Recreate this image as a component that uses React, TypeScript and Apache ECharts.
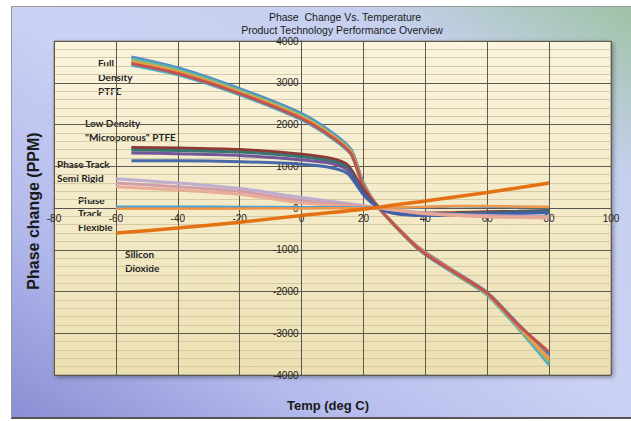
import React, { useEffect, useRef } from "react";
import * as echarts from "echarts";

// Full Density PTFE
const FD_TEMPS = [-55, -40, -20, 0, 10, 16, 20, 25, 35, 40, 50, 60, 70, 80];
const FD_BLUE = [3620, 3360, 2860, 2260, 1800, 1400, 600, 0, -760, -1060, -1540, -2020, -2780, -3520];
const FD_TEAL = [3580, 3330, 2830, 2230, 1770, 1380, 580, 0, -800, -1120, -1600, -2090, -2880, -3760];
const FD_GREEN = [3540, 3290, 2800, 2200, 1740, 1350, 560, 0, -790, -1090, -1580, -2060, -2840, -3680];
const FD_ORANGE = [3500, 3260, 2770, 2170, 1720, 1330, 540, 0, -770, -1080, -1560, -2050, -2830, -3620];
const FD_RED = [3460, 3220, 2740, 2140, 1690, 1300, 520, 0, -780, -1100, -1570, -2040, -2800, -3450];
const FD_PURPLE = [3420, 3190, 2710, 2110, 1660, 1280, 500, 0, -800, -1110, -1590, -2070, -2860, -3700];

// Low Density "Microporous" PTFE
const LD_TEMPS = [-55, -40, -20, 0, 10, 15, 20, 25, 30, 40, 50, 60, 70, 80];
const LD_DARKRED = [1450, 1440, 1400, 1290, 1180, 1020, 420, 0, -80, -120, -110, -90, -80, -60];
const LD_DARKTEAL = [1390, 1380, 1340, 1230, 1120, 960, 380, 0, -100, -150, -130, -110, -90, -70];
const LD_PURPLE = [1320, 1300, 1260, 1150, 1060, 900, 350, 0, -120, -170, -160, -140, -120, -100];
const LD_BLUE = [1130, 1130, 1110, 1050, 960, 820, 320, 0, -130, -180, -180, -160, -130, -110];

// Phase Track Semi Rigid
const SR_TEMPS = [-60, -40, -20, 0, 20, 25, 40, 60, 80];
const SR_LAVENDER = [700, 600, 470, 250, 60, 0, -120, -180, -200];
const SR_PINK = [600, 510, 400, 180, 40, 0, -130, -200, -220];
const SR_SALMON = [510, 430, 330, 120, 30, 0, -140, -210, -240];

// Phase Track Flexible
const FL_TEMPS = [-60, -40, -20, 0, 20, 25, 40, 50, 60, 70, 80];
const FL_BLUE = [30, 30, 25, 20, 10, 0, 20, 40, 30, 25, 20];
const FL_ORANGE = [-20, -20, -15, -10, -5, 0, 30, 50, 50, 35, 30];

// Silicon Dioxide
const SI_TEMPS = [-60, -40, -20, 0, 20, 40, 60, 80];
const SI_VALUES = [-600, -480, -340, -180, -30, 170, 370, 600];

const X_MIN = -80;
const X_MAX = 100;
const X_STEP = 20;
const Y_MIN = -4000;
const Y_MAX = 4000;
const Y_STEP = 1000;

const CHART_W = 631;
const CHART_H = 421;
const GRID = { left: 54, right: 20, top: 41, bottom: 46 };

const pairs = (t: number[], v: number[]) => t.map((x, i) => [x, v[i]]);

const line = (name: string, t: number[], v: number[], color: string, width = 3) => ({
  name,
  type: "line",
  data: pairs(t, v),
  showSymbol: false,
  symbol: "none",
  smooth: 0.25,
  lineStyle: { color, width, opacity: 0.95 },
  z: 3,
});

export default function App() {
  const ref = useRef<HTMLDivElement>(null);
  useEffect(() => {
    const chart = echarts.init(ref.current!, null, { renderer: "svg" });
    const ann = { fontFamily: "Lato", fontWeight: "bold", fontSize: 10, fill: "#222" } as any;
    const plotW = CHART_W - GRID.left - GRID.right;
    const plotH = CHART_H - GRID.top - GRID.bottom;
    const yAxisOffset = -((0 - X_MIN) / (X_MAX - X_MIN)) * plotW;
    const xAxisOffset = -((0 - Y_MIN) / (Y_MAX - Y_MIN)) * plotH;
    chart.setOption({
      animation: false,
      grid: {
        ...GRID,
        show: true,
        backgroundColor: new echarts.graphic.LinearGradient(0, 0, 0, 1, [
          { offset: 0, color: "#fbf4de" },
          { offset: 1, color: "#ece0b2" },
        ]),
        borderColor: "#8a8a80",
        borderWidth: 1,
        shadowBlur: 4,
        shadowColor: "rgba(0,0,0,0.35)",
        shadowOffsetX: 2,
        shadowOffsetY: 2,
      },
      xAxis: {
        type: "value",
        min: X_MIN,
        max: X_MAX,
        interval: X_STEP,
        offset: xAxisOffset,
        axisLine: { show: true, onZero: false, lineStyle: { color: "#555", width: 1 } },
        axisTick: { show: false },
        axisLabel: { color: "#222", fontFamily: "Liberation Sans", fontSize: 10, margin: 5, formatter: (v: number) => String(v) },
        splitLine: { show: true, lineStyle: { color: "#5e5a4e", width: 1 } },
      },
      yAxis: {
        type: "value",
        min: Y_MIN,
        max: Y_MAX,
        interval: Y_STEP,
        offset: yAxisOffset,
        axisLine: { show: true, onZero: false, lineStyle: { color: "#555", width: 1 } },
        axisTick: { show: true, length: 4, lineStyle: { color: "#555" } },
        axisLabel: { color: "#222", fontFamily: "Liberation Sans", fontSize: 10, margin: 3, formatter: (v: number) => String(v) },
        splitLine: { show: true, lineStyle: { color: "#5e5a4e", width: 1 } },
        minorTick: { show: false, splitNumber: 5 },
        minorSplitLine: { show: true, lineStyle: { color: "#d4caa4", width: 1 } },
      },
      series: [
        line("FD purple", FD_TEMPS, FD_PURPLE, "#4bacc6"),
        line("FD blue", FD_TEMPS, FD_BLUE, "#4f81bd"),
        line("FD teal", FD_TEMPS, FD_TEAL, "#4bacc6"),
        line("FD green", FD_TEMPS, FD_GREEN, "#9bbb59"),
        line("FD orange", FD_TEMPS, FD_ORANGE, "#f79646"),
        line("FD red", FD_TEMPS, FD_RED, "#c0504d"),
        line("LD darkred", LD_TEMPS, LD_DARKRED, "#8c2d2b"),
        line("LD darkteal", LD_TEMPS, LD_DARKTEAL, "#2f6f6c"),
        line("LD purple", LD_TEMPS, LD_PURPLE, "#6a4f98"),
        line("LD blue", LD_TEMPS, LD_BLUE, "#3e62a8"),
        line("SR lavender", SR_TEMPS, SR_LAVENDER, "#b9abd0"),
        line("SR pink", SR_TEMPS, SR_PINK, "#cf9aa8"),
        line("SR salmon", SR_TEMPS, SR_SALMON, "#e8a994"),
        line("FL blue", FL_TEMPS, FL_BLUE, "#4f9ac6", 2.5),
        line("FL orange", FL_TEMPS, FL_ORANGE, "#f79646", 2.5),
        line("Silicon Dioxide", SI_TEMPS, SI_VALUES, "#e36c09", 3.5),
      ],
      graphic: [
        { type: "text", x: 345, y: 17, style: { text: "Phase  Change Vs. Temperature", textAlign: "center", textVerticalAlign: "middle", fontFamily: "Liberation Sans", fontSize: 10.5, fill: "#1a1a1a" } },
        { type: "text", x: 342, y: 30, style: { text: "Product Technology Performance Overview", textAlign: "center", textVerticalAlign: "middle", fontFamily: "Liberation Sans", fontSize: 10.5, fill: "#1a1a1a" } },
        { type: "text", x: 33, y: 211, rotation: Math.PI / 2, style: { text: "Phase change (PPM)", textAlign: "center", textVerticalAlign: "middle", fontFamily: "Liberation Sans", fontWeight: "bold", fontSize: 16, fill: "#1a1a1a" } },
        { type: "text", x: 328, y: 405, style: { text: "Temp (deg C)", textAlign: "center", textVerticalAlign: "middle", fontFamily: "Liberation Sans", fontWeight: "bold", fontSize: 13, fill: "#1a1a1a" } },
        { type: "text", x: 98, y: 63, style: { ...ann, text: "Full", textVerticalAlign: "middle" } },
        { type: "text", x: 98, y: 77, style: { ...ann, text: "Density", textVerticalAlign: "middle" } },
        { type: "text", x: 98, y: 91, style: { ...ann, text: "PTFE", textVerticalAlign: "middle" } },
        { type: "text", x: 85, y: 123, style: { ...ann, text: "Low Density", textVerticalAlign: "middle" } },
        { type: "text", x: 85, y: 137, style: { ...ann, text: "\"Microporous\" PTFE", textVerticalAlign: "middle" } },
        { type: "text", x: 57, y: 164, style: { ...ann, text: "Phase Track", textVerticalAlign: "middle" } },
        { type: "text", x: 57, y: 178, style: { ...ann, text: "Semi Rigid", textVerticalAlign: "middle" } },
        { type: "text", x: 78, y: 200, style: { ...ann, text: "Phase", textVerticalAlign: "middle" } },
        { type: "text", x: 78, y: 213, style: { ...ann, text: "Track", textVerticalAlign: "middle" } },
        { type: "text", x: 78, y: 227, style: { ...ann, text: "Flexible", textVerticalAlign: "middle" } },
        { type: "text", x: 125, y: 254, style: { ...ann, text: "Silicon", textVerticalAlign: "middle" } },
        { type: "text", x: 125, y: 268, style: { ...ann, text: "Dioxide", textVerticalAlign: "middle" } },
      ],
    });
    return () => chart.dispose();
  }, []);
  return (
    <div style={{ position: "fixed", left: 0, top: 0, width: CHART_W, height: CHART_H, background: "#fff", overflow: "hidden" }}>
      <div
        style={{
          position: "absolute",
          left: 11,
          top: 6,
          width: 630,
          height: 410,
          background: "linear-gradient(to top right, #8a8ed4 0%, #b4bbec 25%, #cbd2f4 50%, #c6d0ee 78%, #9dc2a2 100%)",
          borderTop: "1px solid #9a9a9a",
          borderLeft: "1px solid #9a9a9a",
          borderBottom: "2px solid #555",
        }}
      />
      <div ref={ref} style={{ position: "absolute", left: 0, top: 0, width: CHART_W, height: CHART_H }} />
    </div>
  );
}
